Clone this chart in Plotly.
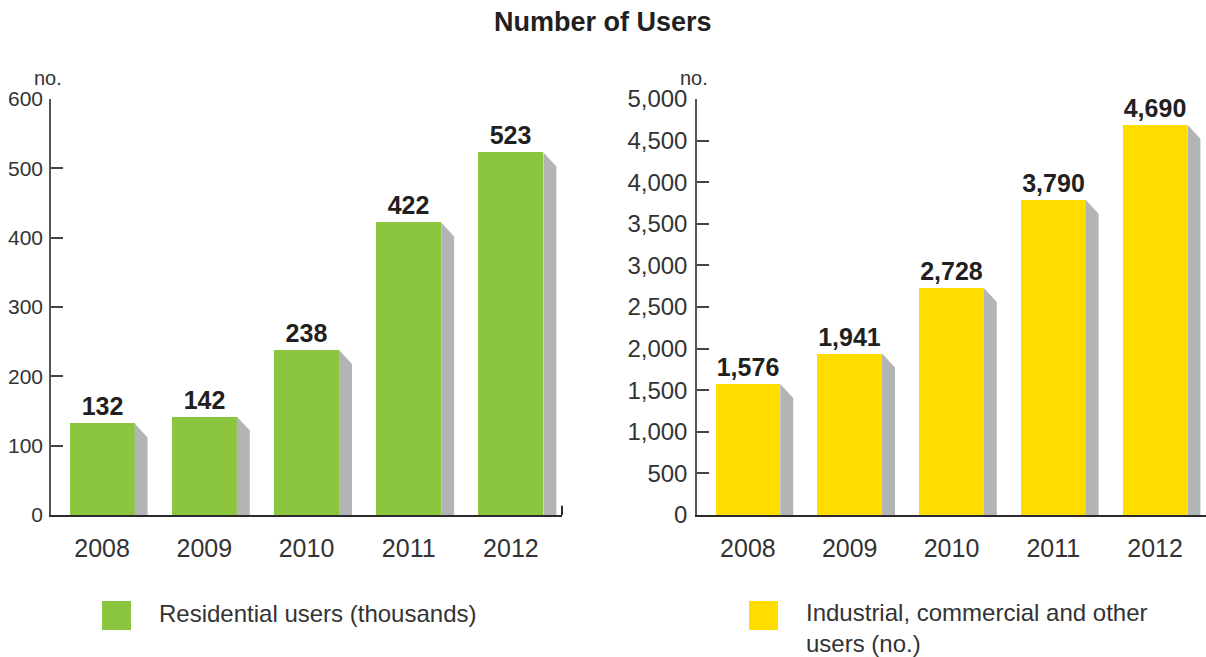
import plotly.graph_objects as go

years = ["2008", "2009", "2010", "2011", "2012"]
residential = [132, 142, 238, 422, 523]
industrial = [1576, 1941, 2728, 3790, 4690]

left_ticks = [0, 100, 200, 300, 400, 500, 600]
right_ticks = [0, 500, 1000, 1500, 2000, 2500, 3000, 3500, 4000, 4500, 5000]

GREEN = "#8cc63f"
YELLOW = "#ffdd00"
SHADOW = "#b3b4b6"
TEXT = "#231f20"
FONT = "Liberation Sans"

W, H = 1206, 657
BAR_W = 0.636
DX = 0.127


def shadow_xy(values, dy):
    xs, ys = [], []
    for i, v in enumerate(values):
        x0 = i + BAR_W / 2
        x1 = x0 + DX
        xs += [x0, x1, x1, x0, x0, None]
        ys += [v, v - dy, 0, 0, v, None]
    return xs, ys


fig = go.Figure()

# left panel
sx, sy = shadow_xy(residential, 20.2)
fig.add_trace(go.Scatter(x=sx, y=sy, fill="toself", fillcolor=SHADOW, mode="lines",
                         line=dict(width=0), hoverinfo="skip", xaxis="x", yaxis="y"))
fig.add_trace(go.Bar(x=list(range(5)), y=residential, width=BAR_W, marker=dict(color=GREEN, line=dict(width=0)),
                     text=[f"{v:,}" for v in residential], textposition="outside",
                     textfont=dict(family=FONT, size=25, color=TEXT, weight="bold"),
                     cliponaxis=False, xaxis="x", yaxis="y"))

# right panel
sx, sy = shadow_xy(industrial, 169)
fig.add_trace(go.Scatter(x=sx, y=sy, fill="toself", fillcolor=SHADOW, mode="lines",
                         line=dict(width=0), hoverinfo="skip", xaxis="x2", yaxis="y2"))
fig.add_trace(go.Bar(x=list(range(5)), y=industrial, width=BAR_W, marker=dict(color=YELLOW, line=dict(width=0)),
                     text=[f"{v:,}" for v in industrial], textposition="outside",
                     textfont=dict(family=FONT, size=25, color=TEXT, weight="bold"),
                     cliponaxis=False, xaxis="x2", yaxis="y2"))

ydom = [1 - 515 / H, 1 - 99 / H]

common_x = dict(range=[-0.5, 4.5], tickmode="array", tickvals=list(range(5)), ticktext=years,
                showline=True, linecolor="#2b2b2b", linewidth=2, ticks="", showgrid=False,
                zeroline=False, tickfont=dict(family=FONT, size=25, color="#333333"),
                ticklabelstandoff=10, fixedrange=True)
common_y = dict(showline=True, linecolor="#555555", linewidth=1.5, ticks="inside", ticklen=12,
                tickwidth=1.5, tickcolor="#444444", showgrid=False, zeroline=False,
                tickmode="array", fixedrange=True)

fig.update_layout(
    width=W, height=H,
    margin=dict(l=0, r=0, t=0, b=0, autoexpand=False),
    paper_bgcolor="white", plot_bgcolor="white",
    showlegend=False,
    bargap=0,
    xaxis=dict(domain=[51 / W, 562 / W], anchor="y", **common_x),
    yaxis=dict(domain=ydom, anchor="x", range=[0, 600], tickvals=left_ticks,
               ticktext=[str(v) for v in left_ticks],
               tickfont=dict(family=FONT, size=21, color="#333333"), ticklabelstandoff=2, **common_y),
    xaxis2=dict(domain=[697 / W, 1.0], anchor="y2", **common_x),
    yaxis2=dict(domain=ydom, anchor="x2", range=[0, 5000], tickvals=right_ticks,
                ticktext=[f"{v:,}" for v in right_ticks],
                tickfont=dict(family=FONT, size=24, color="#333333"), ticklabelstandoff=3, **common_y),
)

# small end tick of left x axis
fig.add_shape(type="line", xref="x domain", yref="y domain", x0=1, x1=1, y0=0, y1=0.022,
              line=dict(color="#2b2b2b", width=2))

# legend swatches
fig.add_shape(type="rect", xref="paper", yref="paper", x0=102 / W, x1=131 / W,
              y0=1 - 630 / H, y1=1 - 601 / H, fillcolor=GREEN, line=dict(width=0))
fig.add_shape(type="rect", xref="paper", yref="paper", x0=749 / W, x1=778 / W,
              y0=1 - 630 / H, y1=1 - 601 / H, fillcolor=YELLOW, line=dict(width=0))

annotations = [
    dict(text="<b>Number of Users</b>", x=0.5, y=1 - 22 / H, xref="paper", yref="paper",
         showarrow=False, font=dict(family=FONT, size=27, color=TEXT), xanchor="center", yanchor="middle"),
    dict(text="no.", x=64 / W, y=1 - 78 / H, xref="paper", yref="paper", showarrow=False,
         font=dict(family=FONT, size=20, color="#333333"), xanchor="right", yanchor="middle"),
    dict(text="no.", x=710 / W, y=1 - 78 / H, xref="paper", yref="paper", showarrow=False,
         font=dict(family=FONT, size=20, color="#333333"), xanchor="right", yanchor="middle"),
    dict(text="Residential users (thousands)", x=157 / W, y=1 - 613 / H, xref="paper", yref="paper",
         showarrow=False, font=dict(family=FONT, size=24, color="#333333"), xanchor="left", yanchor="middle"),
    dict(text="Industrial, commercial and other<br>users (no.)", x=804 / W, y=1 - 597 / H,
         xref="paper", yref="paper", showarrow=False, align="left",
         font=dict(family=FONT, size=24, color="#333333"), xanchor="left", yanchor="top"),
]
fig.update_layout(annotations=annotations)

fig.write_html("out.html")
